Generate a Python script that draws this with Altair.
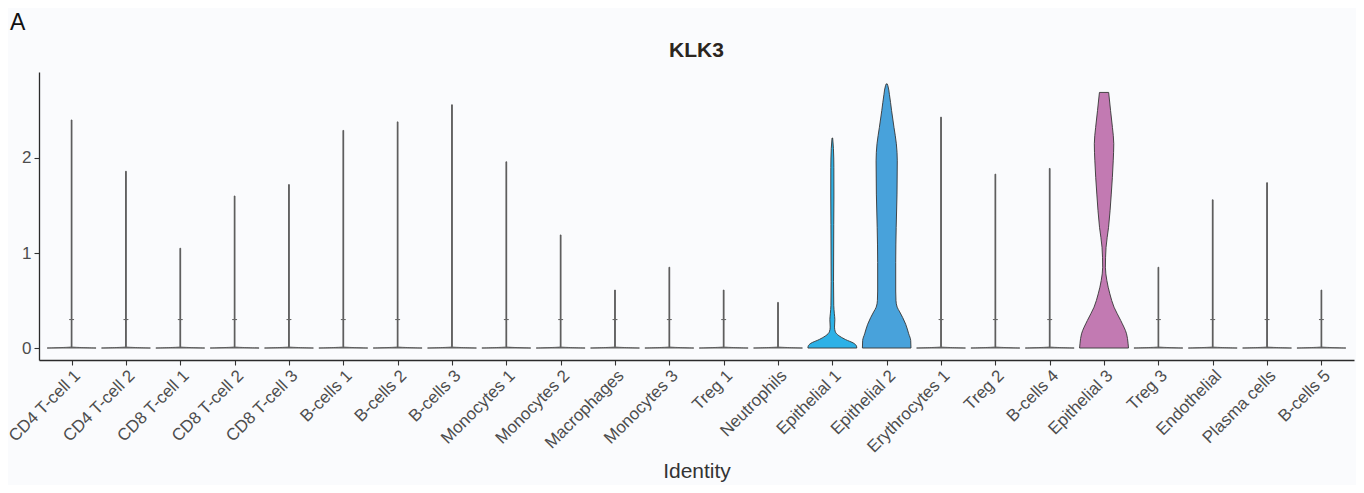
import json
import altair as alt
import pandas as pd

# ---------------- data ----------------
categories = ["CD4 T-cell 1", "CD4 T-cell 2", "CD8 T-cell 1", "CD8 T-cell 2", "CD8 T-cell 3",
              "B-cells 1", "B-cells 2", "B-cells 3", "Monocytes 1", "Monocytes 2",
              "Macrophages", "Monocytes 3", "Treg 1", "Neutrophils", "Epithelial 1",
              "Epithelial 2", "Erythrocytes 1", "Treg 2", "B-cells 4", "Epithelial 3",
              "Treg 3", "Endothelial", "Plasma cells", "B-cells 5"]

max_expr = [2.40, 1.86, 1.05, 1.60, 1.72, 2.29, 2.38, 2.56, 1.96, 1.19,
            0.61, 0.85, 0.61, 0.48, 2.21, 2.78, 2.43, 1.83, 1.89, 2.69,
            0.85, 1.56, 1.74, 0.61]

# small clusters of points visible on the thin violins (value, or None)
dense_pts = [0.30, 0.30, 0.30, 0.30, 0.30, 0.30, 0.30, None, 0.30, 0.30,
             0.30, 0.30, 0.30, None, None, None, 0.30, 0.30, 0.30, None,
             0.30, 0.30, 0.30, 0.30]

# density profiles (expression value, half-width as fraction of a category slot)
epi1_vals = [0.0, 0.02, 0.05, 0.09, 0.13, 0.17, 0.22, 0.30, 0.36, 0.45, 0.70, 1.00, 1.30, 1.60, 1.90, 2.10, 2.21]
epi1_hw = [0.450, 0.445, 0.395, 0.240, 0.120, 0.055, 0.040, 0.046, 0.037, 0.026, 0.022, 0.024, 0.026, 0.029, 0.028, 0.020, 0.006]

epi2_vals = [0.0, 0.08, 0.15, 0.25, 0.32, 0.38, 0.43, 0.50, 0.60, 0.90, 1.27, 1.62, 1.97, 2.15, 2.32, 2.50, 2.67, 2.76, 2.78]
epi2_hw = [0.447, 0.442, 0.405, 0.350, 0.295, 0.240, 0.193, 0.171, 0.166, 0.166, 0.175, 0.190, 0.195, 0.178, 0.135, 0.090, 0.050, 0.022, 0.009]

epi3_vals = [0.0, 0.05, 0.15, 0.29, 0.43, 0.57, 0.71, 0.85, 1.06, 1.27, 1.62, 1.97, 2.15, 2.32, 2.50, 2.69]
epi3_hw = [0.450, 0.442, 0.414, 0.307, 0.184, 0.107, 0.052, 0.025, 0.037, 0.083, 0.133, 0.169, 0.179, 0.155, 0.120, 0.085]

profiles = {"Epithelial 1": (epi1_vals, epi1_hw),
            "Epithelial 2": (epi2_vals, epi2_hw),
            "Epithelial 3": (epi3_vals, epi3_hw)}

title_text = "KLK3"
panel_tag = "A"

# ---------------- tables ----------------
rows = []
for i, (cat, mx) in enumerate(zip(categories, max_expr)):
    if cat in profiles:
        vals, hws = profiles[cat]
    else:
        vals, hws = [0.0, 0.012, mx], [0.45, 0.007, 0.007]
    for v, h in zip(vals, hws):
        rows.append({"cat": cat, "idx": i, "value": v, "hw": h})
df = pd.DataFrame(rows)

tick_rows = [{"cat": c, "idx": i, "value": d} for i, (c, d) in enumerate(zip(categories, dense_pts)) if d is not None]
df_ticks = pd.DataFrame(tick_rows)

special_fill = {"Epithelial 1": "#2DB1E6", "Epithelial 2": "#48A2DB", "Epithelial 3": "#C27AB2"}
fill_colors = [special_fill.get(c, "#666666") for c in categories]
stroke_colors = ["#363636" if c in special_fill else "#555555" for c in categories]

n = len(categories)
W, H = 1315, 288
xscale = alt.Scale(domain=[-0.6, n - 1 + 0.6], nice=False, zero=False)
yscale = alt.Scale(domain=[-0.126, 2.905], nice=False, zero=False)

label_expr = json.dumps(categories) + "[datum.value]"

xaxis = alt.Axis(values=list(range(n)), labelExpr=label_expr, labelAngle=-45,
                 labelAlign="right", labelBaseline="top", labelFontSize=17,
                 labelFont="Liberation Sans", labelColor="#4d4d4d", labelPadding=2,
                 tickSize=5, tickColor="#333333", tickWidth=1.1,
                 domainColor="#2b2b2b", domainWidth=1.3, grid=False,
                 title="Identity", titleFont="Liberation Sans", titleFontSize=21,
                 titleFontWeight="normal", titleColor="#333333", titlePadding=5,
                 labelOverlap=False, labelFlush=False)

yaxis = alt.Axis(values=[0, 1, 2], format="d", labelFontSize=17, labelFont="Liberation Sans",
                 labelColor="#4d4d4d", labelPadding=3, tickSize=5,
                 tickColor="#333333", tickWidth=1.1, domainColor="#2b2b2b",
                 domainWidth=1.3, grid=False, title=None)

base = alt.Chart(df).transform_calculate(
    left="datum.idx - datum.hw", right="datum.idx + datum.hw")

violins = base.mark_area(orient="horizontal", interpolate="monotone",
                         strokeWidth=0.9).encode(
    y=alt.Y("value:Q", scale=yscale, axis=yaxis),
    x=alt.X("left:Q", scale=xscale, axis=xaxis),
    x2="right:Q",
    detail="cat:N",
    fill=alt.Fill("cat:N", scale=alt.Scale(domain=categories, range=fill_colors), legend=None),
    stroke=alt.Stroke("cat:N", scale=alt.Scale(domain=categories, range=stroke_colors), legend=None),
)

ticks = alt.Chart(df_ticks).transform_calculate(
    left="datum.idx - 0.045", right="datum.idx + 0.045").mark_rule(
    color="#666666", strokeWidth=1.1).encode(
    y=alt.Y("value:Q", scale=yscale),
    x=alt.X("left:Q", scale=xscale),
    x2="right:Q",
)

title_mark = alt.Chart(pd.DataFrame({"t": [title_text]})).mark_text(
    font="Liberation Sans", fontSize=21, fontWeight="bold", align="center",
    baseline="alphabetic", color="#2b2520").encode(
    text="t:N", x=alt.value(W / 2), y=alt.value(-15))

panel_label = alt.Chart(pd.DataFrame({"t": [panel_tag]})).mark_text(
    font="Liberation Sans", fontSize=23, align="left", baseline="alphabetic",
    color="#111111").encode(
    text="t:N", x=alt.value(-29), y=alt.value(-42))

chart = alt.layer(violins, ticks, title_mark, panel_label).properties(
    width=W, height=H,
    background="#FAFBFD",
    padding={"left": 31, "top": 64, "right": 2, "bottom": 125},
    autosize=alt.AutoSizeParams(type="none"),
).configure_view(stroke=None)

chart.save("out.html", embed_options={"renderer": "svg", "actions": False})
